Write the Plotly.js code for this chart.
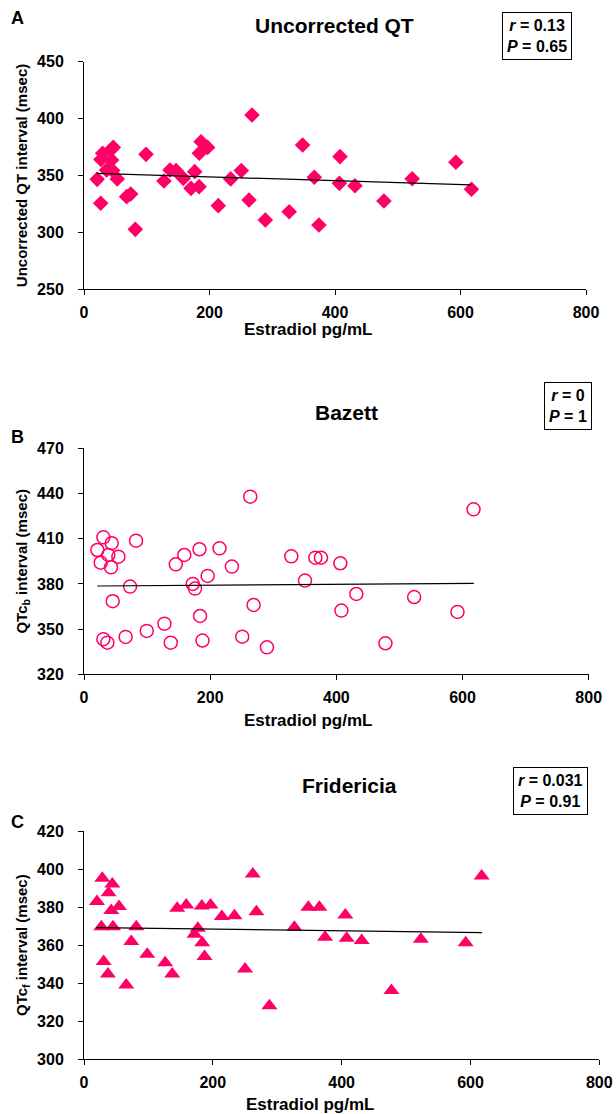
<!DOCTYPE html>
<html>
<head>
<meta charset="utf-8">
<script src="https://cdn.plot.ly/plotly-3.0.1.min.js"></script>
<style>html,body{margin:0;padding:0;background:#fff;}#chart{width:616px;height:1114px;}</style>
</head>
<body>
<div id="chart"></div>
<script>
// ---------- Data ----------
const estradiolA = [21, 26.6, 29.7, 27, 42.5, 46.7, 44, 36, 45.7, 53, 68, 74.4, 81.8, 98.8, 127.4, 137, 146.6, 158.3, 170.5, 176.4, 183.4, 186.5, 183.8, 197, 214, 233.7, 250.7, 263, 267.7, 289, 327, 348.4, 367, 374.4, 408, 407, 431.8, 478, 523, 592.6, 617.5];
const qtUncorrected = [346.6, 325.6, 369.5, 364, 372.4, 374.7, 363.6, 354.8, 354.3, 347, 331.4, 333.8, 302.7, 368.6, 345.2, 354.8, 354.3, 347.5, 338.7, 353.4, 340.2, 379.7, 369.5, 374.7, 323.5, 347, 354.3, 328.5, 403.2, 310.9, 318.2, 376.8, 348.4, 306.5, 366.6, 343.1, 341, 327.6, 347.2, 361.6, 337.9];
const trendXA = [20, 617];
const trendYA = [351.9, 341.7];

const estradiolB = [21.2, 30.7, 43.9, 38.6, 54.5, 26.5, 42.8, 82.5, 73, 45.5, 30.7, 37, 66, 99.5, 127.5, 137.5, 145.5, 159, 183, 172.4, 176, 196, 184, 187.8, 214.8, 234.4, 250.8, 263.5, 268.8, 290, 328.6, 350.3, 366.7, 375.6, 406.3, 408, 431.7, 477.8, 523.3, 592, 617.4];
const qtcBazett = [402.5, 410.9, 407, 399.2, 398.1, 394.1, 391, 408.7, 378.2, 368.5, 343.3, 341, 344.8, 348.8, 353.6, 341, 393, 399.2, 403, 380, 376.9, 385.3, 358.7, 342.4, 403.6, 391.5, 345, 437.9, 366, 337.9, 398.3, 382.2, 397.4, 397.4, 393.7, 362.3, 373.3, 340.6, 371.3, 361.4, 429.5];
const trendXB = [21, 618];
const trendYB = [378.6, 380.4];

const estradiolC = [28.4, 43.9, 38.2, 20.2, 42.3, 54.3, 26.9, 45, 81.1, 73.4, 30.5, 37.2, 65.6, 98.2, 126, 137, 144.7, 158.7, 171.6, 176.7, 183.5, 183, 196.4, 187.1, 214, 233.6, 250, 262, 267.7, 287.9, 326.6, 348.3, 365.4, 374.2, 405.7, 407.8, 431.1, 477.3, 523, 592.5, 617.4];
const qtcFridericia = [395.1, 392.2, 387.6, 382.9, 378.2, 380.3, 369.7, 369.7, 369.7, 361.9, 351.4, 344.9, 339.1, 355.2, 350.8, 344.9, 379.4, 381.1, 365.7, 368.9, 361.3, 380.6, 381.1, 354, 375, 375.5, 347.5, 397.4, 377.6, 328.1, 369.4, 379.9, 379.9, 364.1, 375.9, 363.6, 362.4, 336.1, 363.1, 361.3, 396.4];
const trendXC = [19, 618];
const trendYC = [369.2, 366.6];

const xTicks = [0, 200, 400, 600, 800];
const yTicksA = [250, 300, 350, 400, 450];
const yTicksB = [320, 350, 380, 410, 440, 470];
const yTicksC = [300, 320, 340, 360, 380, 400, 420];

const panelTitles = ["Uncorrected QT", "Bazett", "Fridericia"];
const panelLetters = ["A", "B", "C"];
const statsText = ["<i>r</i> = 0.13<br><i>P</i> = 0.65", "<i>r</i> = 0<br><i>P</i> = 1", "<i>r</i> = 0.031<br><i>P</i> = 0.91"];
const yTitles = ["Uncorrected QT interval (msec)", "QTc<sub>b</sub> interval (msec)", "QTc<sub>f</sub> interval (msec)"];
const xTitle = "Estradiol pg/mL";

// ---------- Layout helpers ----------
const W = 616, H = 1114;
const px = v => v / W;
const py = v => 1 - v / H;
const FONT = '"Liberation Sans", Arial, sans-serif';
const PINK = '#FF0066';

function xAxis(anchor, left, right) {
  return {
    domain: [px(left), px(right)], anchor: anchor, range: [0, 800],
    tickmode: 'array', tickvals: xTicks, ticktext: xTicks.map(String),
    ticks: 'outside', ticklen: 5, tickwidth: 1, tickcolor: '#000',
    showline: true, linecolor: '#000', linewidth: 1, showgrid: false, zeroline: false,
    tickfont: {family: FONT, size: 16, color: '#000', weight: 'bold'},
    ticklabelstandoff: 3, fixedrange: true
  };
}
function yAxis(anchor, top, bottom, ticks, title) {
  return {
    domain: [py(bottom), py(top)], anchor: anchor, range: [ticks[0], ticks[ticks.length - 1]],
    tickmode: 'array', tickvals: ticks, ticktext: ticks.map(String),
    ticks: 'outside', ticklen: 5, tickwidth: 1, tickcolor: '#000',
    showline: true, linecolor: '#000', linewidth: 1, showgrid: false, zeroline: false,
    tickfont: {family: FONT, size: 16, color: '#000', weight: 'bold'},
    ticklabelstandoff: 11,
    title: {text: title, font: {family: FONT, size: 15, color: '#000', weight: 'bold'}, standoff: 5},
    fixedrange: true
  };
}

const traces = [
  {x: estradiolA, y: qtUncorrected, xaxis: 'x', yaxis: 'y', mode: 'markers', type: 'scatter',
   marker: {symbol: 'diamond', size: 12, color: PINK, line: {width: 0}}},
  {x: trendXA, y: trendYA, xaxis: 'x', yaxis: 'y', mode: 'lines', type: 'scatter',
   line: {color: '#000', width: 1.2}},
  {x: estradiolB, y: qtcBazett, xaxis: 'x2', yaxis: 'y2', mode: 'markers', type: 'scatter',
   marker: {symbol: 'circle-open', size: 13, color: PINK, line: {color: PINK, width: 1.5}}},
  {x: trendXB, y: trendYB, xaxis: 'x2', yaxis: 'y2', mode: 'lines', type: 'scatter',
   line: {color: '#000', width: 1.2}},
  {x: estradiolC, y: qtcFridericia, xaxis: 'x3', yaxis: 'y3', mode: 'markers', type: 'scatter',
   marker: {symbol: 'triangle-up', size: 14, color: PINK, line: {width: 0}}},
  {x: trendXC, y: trendYC, xaxis: 'x3', yaxis: 'y3', mode: 'lines', type: 'scatter',
   line: {color: '#000', width: 1.2}}
];

function ann(text, x, y, size, extra) {
  return Object.assign({text: text, x: px(x), y: py(y), xref: 'paper', yref: 'paper',
    xanchor: 'center', yanchor: 'middle', showarrow: false,
    font: {family: FONT, size: size, color: '#000', weight: 'bold'}}, extra || {});
}

const letterPos = [[17, 18], [17, 437], [17, 822]];
const titlePos = [[335, 25], [346, 412], [349, 785]];
const boxPos = [[536.6, 36], [568, 406], [550, 791]];
const xTitlePos = [[308, 329], [308, 721], [310, 1104]];

const annotations = [];
for (let i = 0; i < 3; i++) {
  annotations.push(ann(panelLetters[i], letterPos[i][0], letterPos[i][1], 18));
  annotations.push(ann(panelTitles[i], titlePos[i][0], titlePos[i][1], 21));
  annotations.push(ann(statsText[i], boxPos[i][0], boxPos[i][1], 16,
    {bordercolor: '#000', borderwidth: 1, borderpad: 4, bgcolor: '#fff', align: 'center'}));
  annotations.push(ann(xTitle, xTitlePos[i][0], xTitlePos[i][1], 17));
}

const layout = {
  width: W, height: H,
  margin: {l: 0, r: 0, t: 0, b: 0, pad: 0},
  paper_bgcolor: '#fff', plot_bgcolor: '#fff',
  showlegend: false,
  font: {family: FONT, color: '#000'},
  xaxis: xAxis('y', 84, 586),
  yaxis: yAxis('x', 61.7, 289.3, yTicksA, yTitles[0]),
  xaxis2: xAxis('y2', 84, 588.7),
  yaxis2: yAxis('x2', 448.3, 674.3, yTicksB, yTitles[1]),
  xaxis3: xAxis('y3', 84, 599.3),
  yaxis3: yAxis('x3', 831, 1059.3, yTicksC, yTitles[2]),
  annotations: annotations
};

Plotly.newPlot('chart', traces, layout, {staticPlot: true, displayModeBar: false});
</script>
</body>
</html>
